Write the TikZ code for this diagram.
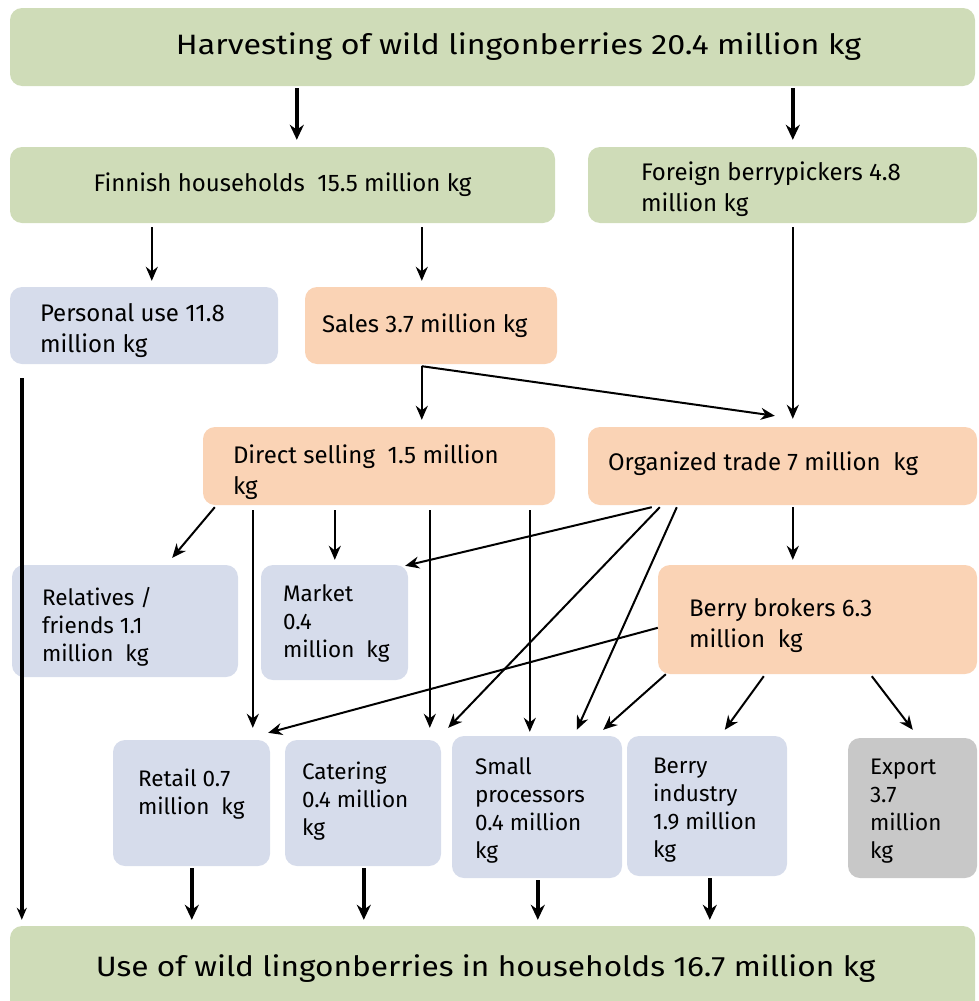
\documentclass[tikz,border=0pt]{standalone}
\usepackage{fontspec}
\setmainfont{Fira Sans}
\newfontfamily\titlefont[FakeStretch=1.15]{Fira Sans}
\newfontfamily\bottomfont[FakeStretch=1.13]{Fira Sans}
\usetikzlibrary{calc,arrows.meta}
\definecolor{cgreen}{HTML}{CFDCB8}
\definecolor{cblue}{HTML}{D6DCEB}
\definecolor{corange}{HTML}{FAD3B5}
\definecolor{cgrey}{HTML}{C8C8C8}
\newcommand\bigtxt[1]{\parbox[t]{330pt}{\raggedright\fontsize{24}{31}\selectfont #1}}
\newcommand\smtxt[1]{\parbox[t]{200pt}{\raggedright\fontsize{22.5}{28}\selectfont #1}}
\tikzset{
  box/.style={rounded corners=12pt, draw=none, inner sep=0pt},
  lbl/.style={inner sep=0pt, anchor=base west},
  thinarr/.style={line width=2pt, -{Stealth[length=14pt,width=12pt]}},
  thickarr/.style={line width=4pt, -{Stealth[length=15pt,width=14pt]}},
}
\begin{document}
\begin{tikzpicture}[x=1pt,y=-1pt]
\useasboundingbox (0,0) rectangle (979,1001);
% boxes
\node[box, fill=cgreen, minimum width=965pt, minimum height=78pt, align=center,
  font=\titlefont\fontsize{28}{34}\selectfont] (top) at (492.5,47) {\kern52pt Harvesting of wild lingonberries 20.4 million kg};
\node[box, fill=cgreen, minimum width=545pt, minimum height=76pt, align=center,
  font=\fontsize{24}{31}\selectfont] (fin) at (282.5,185) {Finnish households\ \ 15.5 million kg};
\node[box, fill=cgreen, minimum width=389pt, minimum height=76pt] (for) at (782.5,185) {};
\node[box, fill=cblue, minimum width=268pt, minimum height=77pt] (pers) at (144,325.5) {};
\node[box, fill=corange, minimum width=252pt, minimum height=77pt] (sales) at (431,325.5) {};
\node[box, fill=corange, minimum width=352pt, minimum height=78pt] (dir) at (379,466) {};
\node[box, fill=corange, minimum width=389pt, minimum height=78pt] (org) at (782.5,466) {};
\node[box, fill=cblue, minimum width=226pt, minimum height=112pt] (rel) at (125,621) {};
\node[box, fill=cblue, minimum width=147pt, minimum height=115pt] (mkt) at (334.5,622.5) {};
\node[box, fill=corange, minimum width=319pt, minimum height=109pt] (brk) at (817.5,619.5) {};
\node[box, fill=cblue, minimum width=157pt, minimum height=126pt] (ret) at (191.5,803) {};
\node[box, fill=cblue, minimum width=156pt, minimum height=126pt] (cat) at (363,803) {};
\node[box, fill=cblue, minimum width=170pt, minimum height=142pt] (sml) at (537,807) {};
\node[box, fill=cblue, minimum width=160pt, minimum height=140pt] (bind) at (707,806) {};
\node[box, fill=cgrey, minimum width=129pt, minimum height=140pt] (exp) at (912.5,808) {};
\node[box, fill=cgreen, minimum width=965pt, minimum height=90pt, align=center,
  font=\bottomfont\fontsize{28}{34}\selectfont] (bot) at (492.5,971) {\raisebox{10pt}{\kern-14pt Use of wild lingonberries in households 16.7 million kg}};
% texts
\node[lbl] (tfor) at ($(for.north west)+(53,34)$) {\bigtxt{Foreign berrypickers 4.8\\million kg}};
\node[lbl] (tpers) at ($(pers.north west)+(30,35)$) {\bigtxt{Personal use 11.8\\million kg}};
\node[lbl] (tsales) at ($(sales.north west)+(17,46)$) {\bigtxt{Sales 3.7 million kg}};
\node[lbl] (tdir) at ($(dir.north west)+(30,37)$) {\bigtxt{Direct selling\ \ 1.5 million\\kg}};
\node[lbl] (torg) at ($(org.north west)+(20,44)$) {\bigtxt{Organized trade 7 million\ \ kg}};
\node[lbl] (tbrk) at ($(brk.north west)+(31,52)$) {\bigtxt{Berry brokers 6.3\\million\ \ kg}};
\node[lbl] (trel) at ($(rel.north west)+(30,41)$) {\smtxt{Relatives /\\friends 1.1\\million\ \ kg}};
\node[lbl] (tmkt) at ($(mkt.north west)+(22,37)$) {\smtxt{Market\\0.4\\million\ \ kg}};
\node[lbl] (tret) at ($(ret.north west)+(25,47)$) {\smtxt{Retail 0.7\\million\ \ kg}};
\node[lbl] (tcat) at ($(cat.north west)+(17,40)$) {\smtxt{Catering\\0.4 million\\kg}};
\node[lbl] (tsml) at ($(sml.north west)+(23,39)$) {\smtxt{Small\\processors\\0.4 million\\kg}};
\node[lbl] (tbind) at ($(bind.north west)+(26,38)$) {\smtxt{Berry\\industry\\1.9 million\\kg}};
\node[lbl] (texp) at ($(exp.north west)+(22,37)$) {\smtxt{Export\\3.7\\million\\kg}};
% connectors
\draw[thickarr] ($(top.south west)+(287,2)$) -- ($(fin.north west)+(287,-7)$);
\draw[thickarr] ($(top.south west)+(783,2)$) -- ($(for.north west)+(205,-7)$);
\draw[thinarr] ($(fin.south west)+(142,4)$) -- ($(pers.north west)+(142,-6)$);
\draw[thinarr] ($(fin.south west)+(412,4)$) -- ($(sales.north west)+(117,-6)$);
\draw[thinarr] ($(for.south west)+(205,4)$) -- ($(org.north west)+(205,-8)$);
\draw[thinarr] ($(sales.south west)+(117,2)$) -- ($(dir.north west)+(219,-7)$);
\draw[thinarr] ($(sales.south west)+(117,2)$) -- ($(org.north west)+(187,-11)$);
\draw[line width=3.5pt, -{Stealth[length=12pt,width=10pt]}] ($(pers.south west)+(12,14)$) -- ($(bot.north west)+(12,-6)$);
\draw[thinarr] ($(dir.south west)+(12,2)$) -- ($(rel.north east)+(-66,-7)$);
\draw[thinarr] ($(dir.south west)+(50,5)$) -- ($(ret.north west)+(140,-12)$);
\draw[thinarr] ($(dir.south west)+(132,5)$) -- ($(mkt.north west)+(74,-5)$);
\draw[thinarr] ($(dir.south west)+(227,5)$) -- ($(cat.north west)+(145,-12)$);
\draw[thinarr] ($(dir.south west)+(327,5)$) -- ($(sml.north west)+(78,-4)$);
\draw[thinarr] ($(org.south west)+(64,2)$) -- ($(mkt.north east)+(-3,1)$);
\draw[thinarr] ($(org.south west)+(72,2)$) -- ($(cat.north east)+(7,-12)$);
\draw[thinarr] ($(org.south west)+(89,2)$) -- ($(sml.north west)+(125,-6)$);
\draw[thinarr] ($(org.south west)+(205,2)$) -- ($(brk.north west)+(135,-5)$);
\draw[thinarr] ($(brk.north west)+(0,63)$) -- ($(ret.north east)+(-2,-7)$);
\draw[thinarr] ($(brk.south west)+(8,0)$) -- ($(sml.north east)+(-19,-6)$);
\draw[thinarr] ($(brk.south west)+(106,2)$) -- ($(bind.north west)+(98,-6)$);
\draw[thinarr] ($(brk.south west)+(214,2)$) -- ($(exp.north west)+(65,-8)$);
\draw[thickarr] ($(ret.south west)+(79,2)$) -- ($(bot.north west)+(182,-6)$);
\draw[thickarr] ($(cat.south west)+(79,2)$) -- ($(bot.north west)+(354,-6)$);
\draw[thickarr] ($(sml.south west)+(86,2)$) -- ($(bot.north west)+(528,-6)$);
\draw[thickarr] ($(bind.south west)+(83,2)$) -- ($(bot.north west)+(700,-6)$);
\end{tikzpicture}
\end{document}
